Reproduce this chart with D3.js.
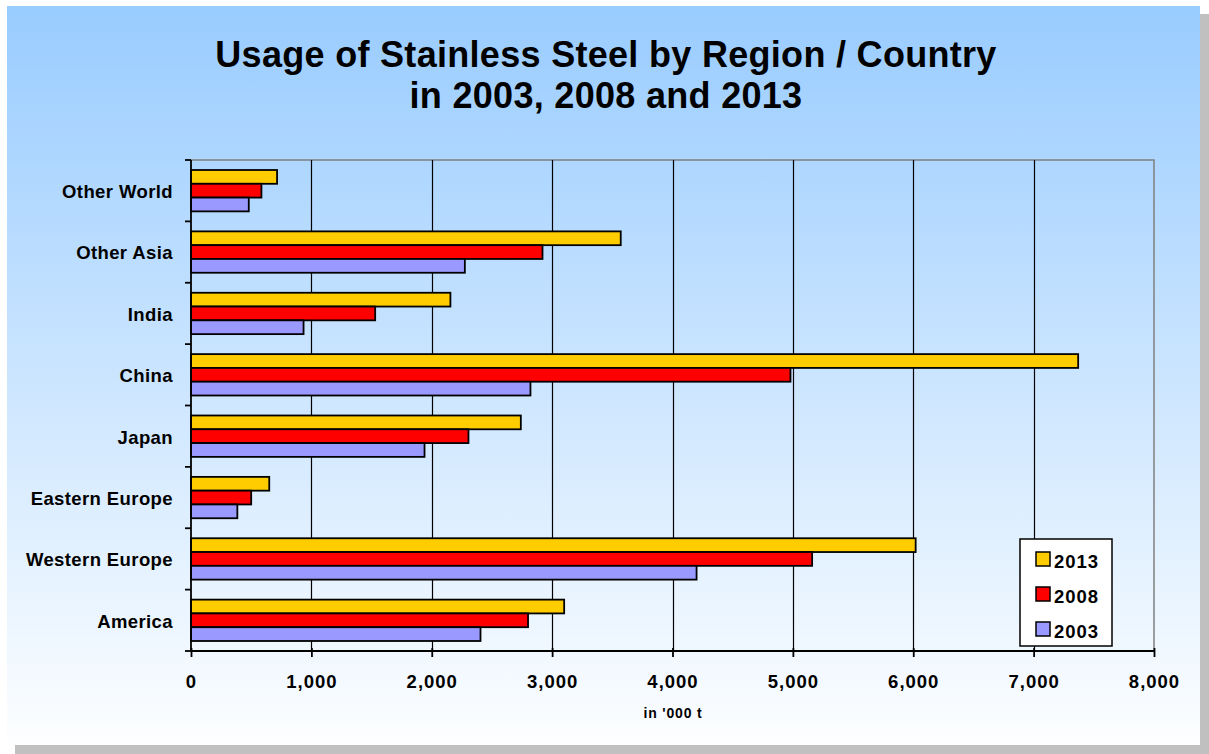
<!DOCTYPE html>
<html>
<head>
<meta charset="utf-8">
<script src="https://cdn.jsdelivr.net/npm/d3@7"></script>
<style>
  html, body { margin: 0; padding: 0; background: #ffffff; }
  svg { display: block; }
  text { font-family: "Liberation Sans", Arial, sans-serif; font-weight: bold; fill: #000; }
</style>
</head>
<body>
<svg id="chart" width="1209" height="754"></svg>
<script>
// Stainless steel usage, thousand tonnes
const categories = ["Other World", "Other Asia", "India", "China", "Japan", "Eastern Europe", "Western Europe", "America"];
const years = ["2013", "2008", "2003"];
const values2013 = [715, 3570, 2155, 7370, 2740, 650, 6020, 3100];
const values2008 = [585, 2920, 1530, 4980, 2305, 500, 5160, 2800];
const values2003 = [480, 2275, 935, 2820, 1940, 385, 4200, 2405];
const xTicks = [0, 1000, 2000, 3000, 4000, 5000, 6000, 7000, 8000];
const colors = ["#FFCC00", "#FF0000", "#9999FF"];

const seriesValues = [values2013, values2008, values2003];

const svg = d3.select("#chart");
const W = 1209, H = 754;

// background panel with drop shadow
const defs = svg.append("defs");
const grad = defs.append("linearGradient").attr("id", "bg").attr("x1", 0).attr("y1", 0).attr("x2", 0).attr("y2", 1);
grad.append("stop").attr("offset", "0%").attr("stop-color", "#99CCFF");
grad.append("stop").attr("offset", "100%").attr("stop-color", "#FDFEFF");

svg.append("rect").attr("x", 15).attr("y", 14).attr("width", W - 15).attr("height", H - 14).attr("fill", "#C0C0C0");
svg.append("rect").attr("x", 7).attr("y", 6).attr("width", 1193).attr("height", 739).attr("fill", "url(#bg)");

// title
const title = svg.append("text").attr("text-anchor", "middle")
  .style("font-size", "36px").style("letter-spacing", "0.3px");
title.append("tspan").attr("x", 606).attr("y", 67).text("Usage of Stainless Steel by Region / Country");
title.append("tspan").attr("x", 606).attr("y", 108).text("in 2003, 2008 and 2013");

// plot area
const plotLeft = 191, plotRight = 1154, plotTop = 160, plotBottom = 651;

const x = d3.scaleLinear().domain([0, 8000]).range([plotLeft, plotRight]);
const y = d3.scaleBand().domain(categories).range([plotTop, plotBottom]).paddingInner(0).paddingOuter(0);
const barH = y.bandwidth() / 4.45;
const groupOffset = (y.bandwidth() - 3 * barH) / 2;

// plot frame (top and right edges)
svg.append("path")
  .attr("d", `M${plotLeft},${plotTop}H${plotRight}V${plotBottom}`)
  .attr("fill", "none").attr("stroke", "#808080").attr("stroke-width", 1.5);

// vertical gridlines
svg.append("g").selectAll("line")
  .data(xTicks.filter(t => t > 0 && t < 8000))
  .join("line")
  .attr("x1", d => Math.round(x(d)) + 0.5).attr("x2", d => Math.round(x(d)) + 0.5)
  .attr("y1", plotTop).attr("y2", plotBottom)
  .attr("stroke", "#000").attr("stroke-width", 1.2);

// bars
const rows = categories.map((c, i) => ({ c, vals: seriesValues.map(s => s[i]) }));
const groups = svg.append("g").selectAll("g")
  .data(rows).join("g")
  .attr("transform", d => `translate(0,${y(d.c) + groupOffset})`);
groups.selectAll("rect")
  .data(d => d.vals.map((v, k) => ({ v, k })))
  .join("rect")
  .attr("x", x(0))
  .attr("y", d => d.k * barH)
  .attr("width", d => x(d.v) - x(0))
  .attr("height", barH)
  .attr("fill", d => colors[d.k])
  .attr("stroke", "#000")
  .attr("stroke-width", 1.8);

// x axis
const xAxis = d3.axisBottom(x).tickValues(xTicks).tickSize(6).tickPadding(18)
  .tickFormat(d3.format(","));
const gx = svg.append("g").attr("transform", `translate(0,${plotBottom})`).call(xAxis);
gx.select(".domain").attr("stroke", "#000").attr("stroke-width", 1.8).attr("d", `M${plotLeft},0H${plotRight}`);
gx.selectAll(".tick line").attr("stroke", "#000").attr("stroke-width", 1.8).attr("y1", -3);
gx.selectAll(".tick text")
  .style("font-size", "18.5px").style("letter-spacing", "1px")
  .style("font-family", "'Liberation Sans', Arial, sans-serif").style("font-weight", "bold")
  .attr("fill", "#000");

// y axis (ticks at category boundaries)
const boundaries = categories.map(c => y(c)).concat([plotBottom]);
svg.append("line").attr("x1", plotLeft).attr("x2", plotLeft).attr("y1", plotTop).attr("y2", plotBottom)
  .attr("stroke", "#000").attr("stroke-width", 1.8);
svg.append("g").selectAll("line").data(boundaries).join("line")
  .attr("x1", plotLeft - 6).attr("x2", plotLeft)
  .attr("y1", d => d).attr("y2", d => d)
  .attr("stroke", "#000").attr("stroke-width", 1.8);

svg.append("g").selectAll("text").data(categories).join("text")
  .attr("x", plotLeft - 18)
  .attr("y", d => y(d) + y.bandwidth() / 2)
  .attr("dy", "0.4em")
  .attr("text-anchor", "end")
  .style("font-size", "18.5px")
  .style("letter-spacing", "0.4px")
  .text(d => d);

// axis unit
svg.append("text").attr("x", 673).attr("y", 718).attr("text-anchor", "middle")
  .style("font-size", "14px").style("letter-spacing", "0.8px").text("in '000 t");

// legend
const lg = svg.append("g").attr("transform", "translate(1020,539)");
lg.append("rect").attr("width", 92).attr("height", 107).attr("fill", "#fff")
  .attr("stroke", "#000").attr("stroke-width", 1.5);
const items = lg.selectAll("g").data(years).join("g")
  .attr("transform", (d, i) => `translate(16,${13 + i * 35})`);
items.append("rect").attr("width", 14).attr("height", 14)
  .attr("fill", (d, i) => colors[i]).attr("stroke", "#000").attr("stroke-width", 1.5);
items.append("text").attr("x", 18).attr("y", 16)
  .style("font-size", "18.5px").style("letter-spacing", "1px").text(d => d);
</script>
</body>
</html>
